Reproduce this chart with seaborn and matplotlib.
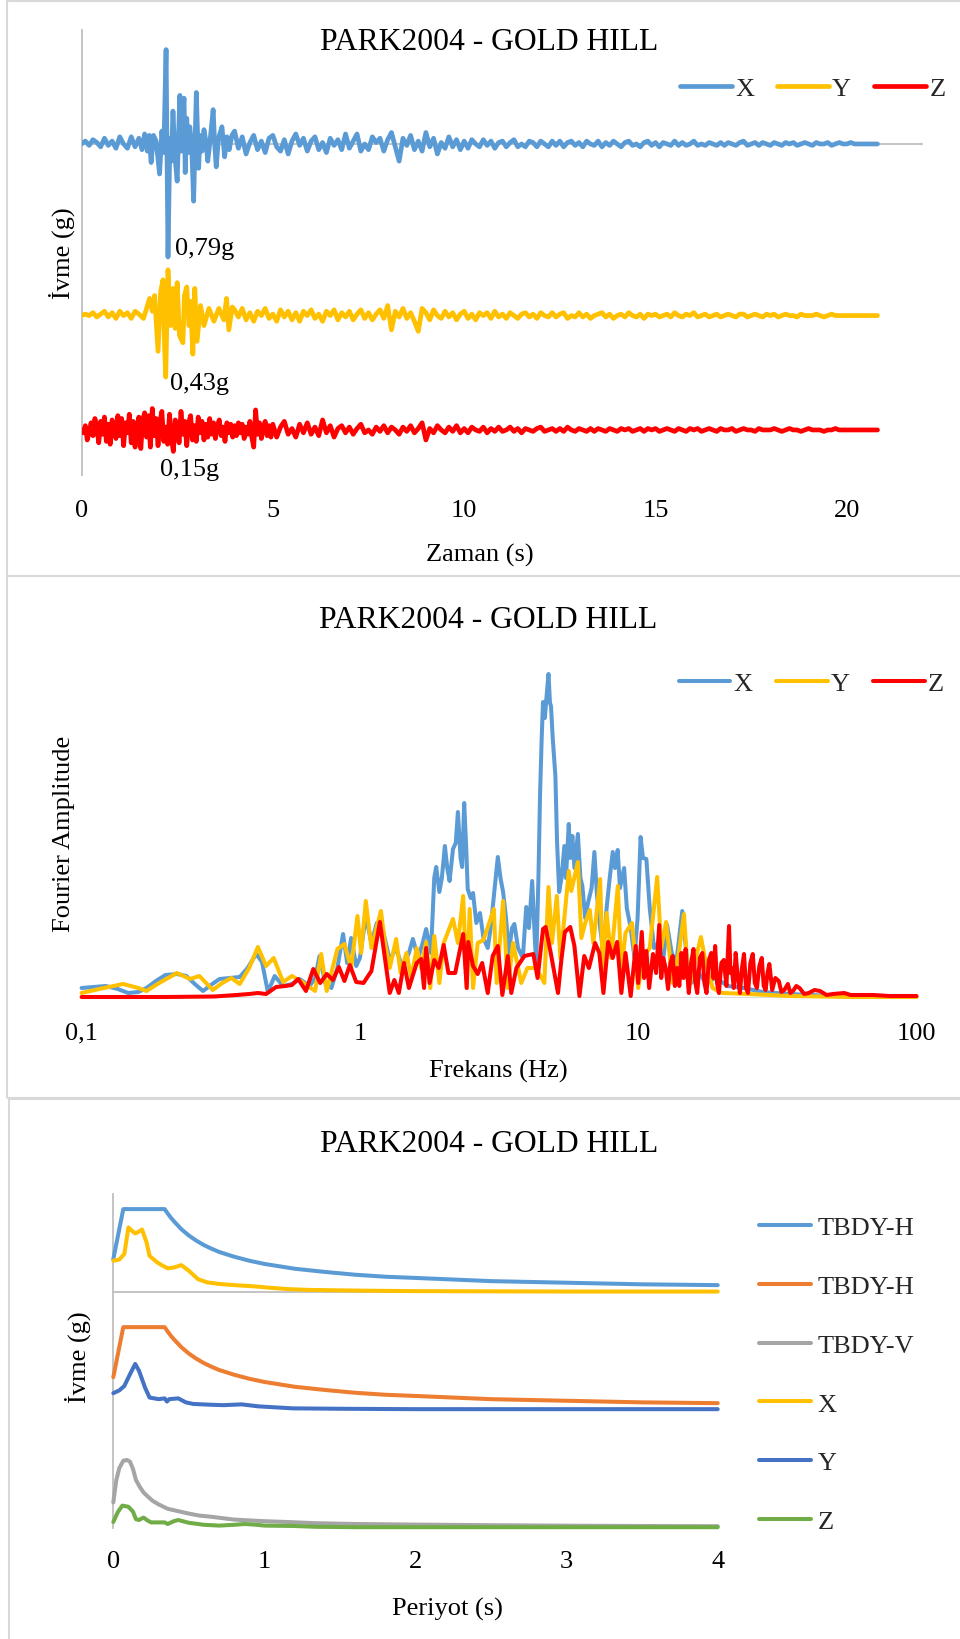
import numpy as np
import pandas as pd
import matplotlib
matplotlib.use("Agg")
import matplotlib.pyplot as plt
from matplotlib.patches import Rectangle
from matplotlib.ticker import NullLocator
import seaborn as sns

# ------------------------------------------------------------------ data
title = "PARK2004 - GOLD HILL"
components = ["X", "Y", "Z"]
comp_colors = ["#5B9BD5", "#FFC000", "#FF0000"]

# acceleration records (g)
# X and Y: 0.1 s samples before 1.6 s and from 4.0 s, irregular samples in between
dt = 0.1
x_pre = [0.00, 0.02, -0.01, 0.03, 0.01, -0.02, 0.04, -0.01, 0.02, -0.03,
         0.05, 0.00, -0.03, 0.05, -0.02, 0.04]
x_strong_t = [1.58, 1.65, 1.72, 1.77, 1.82, 1.88, 1.95, 2.04, 2.10, 2.15,
              2.21, 2.26, 2.31, 2.35, 2.39, 2.44, 2.50, 2.57, 2.61, 2.64,
              2.68, 2.71, 2.75, 2.79, 2.83, 2.88, 2.93, 2.97, 3.00, 3.06,
              3.10, 3.15, 3.20, 3.25, 3.30, 3.37, 3.44, 3.48, 3.52, 3.58,
              3.67, 3.74, 3.80, 3.86, 3.93]
x_strong_a = [-0.04, 0.07, -0.05, 0.06, -0.13, 0.06, 0.02, -0.21, 0.09, -0.06,
              0.66, -0.79, 0.04, -0.12, 0.23, -0.08, -0.26, 0.34, -0.05, 0.20,
              0.32, -0.20, 0.18, -0.06, 0.12, -0.02, -0.40, 0.05, 0.36, -0.17,
              0.06, -0.05, 0.10, 0.02, -0.12, 0.05, 0.24, 0.00, -0.16, 0.04,
              0.12, -0.09, 0.05, -0.04, 0.06]
x_post = [0.09, -0.03, 0.05, -0.07, 0.01, 0.06, -0.04, 0.02, -0.06, 0.04,
          0.06, -0.02, -0.05, 0.03, -0.07, 0.02, 0.07, -0.01, 0.04, -0.05,
          0.02, 0.05, -0.04, 0.01, -0.06, 0.04, -0.01, 0.03, -0.04, 0.07,
          -0.03, 0.02, 0.07, -0.05, 0.00, -0.04, 0.05, 0.01, 0.04, -0.05,
          0.03, 0.08, -0.02, -0.12, 0.04, -0.01, 0.06, -0.04, 0.02, -0.05,
          0.08, -0.02, 0.04, -0.07, 0.01, -0.03, 0.05, -0.02, 0.03, -0.04,
          0.02, -0.03, 0.03, 0.00, -0.02, 0.03, -0.01, 0.02, -0.03, 0.01,
          0.02, -0.02, 0.01, 0.03, -0.02, 0.00, -0.02, 0.02, 0.01, -0.02,
          0.02, 0.00, -0.02, 0.02, -0.01, 0.02, -0.02, 0.01, 0.02, -0.01,
          0.01, -0.02, 0.02, 0.00, -0.01, 0.02, -0.02, 0.01, -0.01, 0.02,
          0.00, -0.02, 0.01, 0.02, -0.01, 0.00, -0.02, 0.01, 0.02, -0.01,
          0.01, -0.02, 0.01, 0.00, -0.01, 0.02, -0.01, 0.01, -0.01, 0.00,
          0.02, -0.01, 0.00, -0.01, 0.01, 0.00, -0.01, 0.01, -0.01, 0.01,
          0.00, -0.01, 0.01, 0.02, -0.01, 0.00, 0.01, -0.01, 0.01, 0.00,
          -0.01, 0.01, 0.00, -0.01, 0.01, 0.00, 0.01, -0.01, 0.00, 0.01,
          0.00, -0.01, 0.01, 0.00, 0.00, 0.01, -0.01, 0.00, 0.01, 0.00,
          0.00, 0.01, 0.00, 0.00, 0.00, 0.00, 0.00, 0.00, 0.00]

y_pre = [0.00, 0.01, 0.00, 0.02, -0.01, 0.01, 0.03, -0.01, 0.02, -0.02,
         0.03, 0.00, 0.02, -0.02, 0.03, 0.01]
y_strong_t = [1.62, 1.70, 1.78, 1.85, 1.91, 2.00, 2.07, 2.13, 2.17, 2.20,
              2.26, 2.33, 2.39, 2.45, 2.50, 2.56, 2.65, 2.69, 2.75, 2.81,
              2.85, 2.91, 2.96, 3.02, 3.11, 3.20, 3.33, 3.46, 3.59, 3.72,
              3.79, 3.85, 3.94]
y_strong_a = [-0.02, 0.05, 0.12, 0.03, 0.14, -0.25, 0.17, 0.25, -0.20, -0.43,
              0.32, -0.07, 0.19, -0.09, 0.23, -0.14, -0.19, 0.14, 0.20, -0.07,
              0.10, -0.27, 0.19, -0.18, 0.07, -0.07, 0.05, -0.04, 0.05, -0.03,
              0.12, -0.10, 0.06]
y_post = [0.04, -0.01, 0.05, -0.03, 0.02, -0.04, 0.03, 0.00, 0.05, -0.02,
          0.01, -0.04, 0.04, -0.01, 0.03, -0.03, 0.02, -0.04, 0.03, 0.00,
          0.04, -0.02, 0.01, -0.04, 0.03, 0.00, 0.04, -0.03, 0.02, -0.01,
          0.03, -0.03, 0.01, 0.04, -0.02, 0.02, -0.03, 0.01, 0.04, -0.02,
          0.07, -0.10, 0.03, -0.01, 0.05, -0.02, 0.02, -0.04, -0.11, 0.05,
          0.02, -0.03, 0.04, 0.00, -0.02, 0.03, -0.01, 0.02, -0.03, 0.01,
          0.03, -0.02, 0.01, -0.03, 0.02, 0.00, 0.02, -0.02, 0.03, -0.01,
          0.01, -0.02, 0.02, 0.00, -0.02, 0.01, 0.02, -0.01, 0.01, -0.02,
          0.02, 0.00, -0.01, 0.02, -0.01, 0.01, 0.02, -0.02, 0.00, -0.01,
          0.02, -0.01, 0.01, -0.02, 0.00, 0.01, 0.02, -0.01, 0.01, -0.02,
          0.00, 0.01, -0.01, 0.02, 0.00, -0.01, 0.01, -0.02, 0.01, 0.00,
          0.01, -0.01, 0.00, 0.01, -0.01, 0.02, 0.00, -0.01, 0.01, 0.00,
          0.02, -0.01, 0.00, 0.01, -0.01, 0.00, 0.01, -0.01, 0.00, 0.01,
          0.00, -0.01, 0.01, 0.01, -0.01, 0.00, 0.01, 0.00, -0.01, 0.01,
          0.00, 0.01, -0.01, 0.00, 0.01, 0.00, 0.00, -0.01, 0.01, 0.00,
          0.00, 0.00, 0.01, 0.00, -0.01, 0.00, 0.01, 0.00, 0.00, 0.00,
          0.00, 0.00, 0.00, 0.00, 0.00, 0.00, 0.00, 0.00, 0.00]

# Z: 0.05 s samples up to 5 s, 0.1 s samples afterwards
z_early = [0.00, -0.02, 0.03, -0.07, -0.02, 0.05, -0.04, 0.08, 0.02, -0.09,
           0.06, -0.03, 0.09, -0.08, 0.04, -0.10, 0.07, 0.01, -0.06, 0.10,
           -0.04, 0.08, -0.11, 0.05, -0.02, 0.11, -0.09, 0.06, -0.12, 0.03,
           0.09, -0.13, 0.07, 0.12, -0.05, 0.10, -0.12, 0.15, -0.04, 0.08,
           -0.11, 0.06, 0.13, -0.08, 0.02, -0.10, 0.11, -0.06, -0.15, 0.07,
           0.04, -0.09, 0.13, -0.03, 0.06, -0.11, 0.05, 0.10, -0.07, 0.03,
           -0.08, 0.09, -0.02, 0.06, -0.07, 0.04, -0.05, 0.08, -0.03, 0.05,
           -0.06, 0.03, 0.07, -0.04, 0.02, -0.08, 0.05, -0.02, 0.04, -0.05,
           0.03, -0.04, 0.05, -0.02, 0.04, -0.06, 0.02, -0.03, 0.06, -0.05,
           -0.12, 0.14, -0.03, 0.05, -0.06, 0.02, 0.06, -0.04, 0.03, -0.05]
z_late = [0.04, -0.05, 0.02, 0.06, -0.03, 0.01, -0.05, 0.04, -0.02, 0.05,
          -0.03, 0.02, -0.04, 0.07, -0.02, 0.03, -0.05, 0.01, 0.03, -0.02,
          0.02, -0.03, 0.01, 0.04, -0.02, 0.00, -0.03, 0.02, -0.01, 0.03,
          -0.02, 0.02, 0.00, -0.03, 0.02, -0.01, 0.03, -0.02, 0.01, 0.05,
          -0.07, 0.01, -0.02, 0.03, 0.00, -0.02, 0.02, -0.01, 0.03, -0.02,
          0.01, -0.02, 0.02, 0.00, -0.01, 0.02, -0.02, 0.01, -0.01, 0.02,
          -0.01, 0.00, 0.02, -0.01, 0.01, -0.02, 0.01, 0.00, -0.01, 0.01,
          0.02, -0.01, 0.00, 0.01, -0.01, 0.01, -0.01, 0.02, 0.00, -0.01,
          0.01, 0.00, -0.01, 0.01, -0.01, 0.01, 0.00, -0.01, 0.01, 0.00,
          -0.01, 0.01, 0.00, 0.01, -0.01, 0.00, 0.01, -0.01, 0.01, 0.00,
          0.01, -0.01, 0.00, 0.01, 0.00, -0.01, 0.01, 0.00, -0.01, 0.01,
          0.00, 0.01, -0.01, 0.00, 0.01, 0.00, -0.01, 0.01, 0.00, 0.00,
          0.01, -0.01, 0.00, 0.01, 0.00, 0.00, -0.01, 0.01, 0.00, 0.00,
          0.00, 0.01, 0.00, -0.01, 0.00, 0.01, 0.00, 0.00, -0.01, 0.00,
          0.01, 0.00, 0.00, 0.00, -0.01, 0.00, 0.00, 0.01, 0.00, 0.00,
          0.00, 0.00, 0.00, 0.00, 0.00, 0.00, 0.00, 0.00, 0.00]

trace_offsets = [0.0, -1.2, -2.0]   # vertical stacking of the three traces (g)
time_ticks = [0, 5, 10, 15, 20]

# Fourier amplitude spectra
fx_freq = [0.100, 0.122, 0.135, 0.147, 0.160, 0.171, 0.185, 0.200, 0.220, 0.238,
           0.255, 0.273, 0.295, 0.313, 0.340, 0.370, 0.395, 0.424, 0.445, 0.467,
           0.494, 0.530, 0.570, 0.607, 0.660, 0.690, 0.716, 0.750, 0.790, 0.830,
           0.870, 0.900, 0.930, 0.970, 1.000, 1.050, 1.100, 1.150, 1.200, 1.280,
           1.350, 1.420, 1.500, 1.550, 1.620, 1.680, 1.730, 1.800, 1.850, 1.880,
           1.930, 1.970, 2.020, 2.060, 2.100, 2.160, 2.210, 2.250, 2.300, 2.330,
           2.370, 2.410, 2.440, 2.500, 2.550, 2.620, 2.700, 2.780, 2.880, 2.950,
           3.050, 3.130, 3.200, 3.270, 3.350, 3.430, 3.520, 3.590, 3.700, 3.850,
           3.960, 4.050, 4.160, 4.250, 4.300, 4.380, 4.440, 4.500, 4.550, 4.620,
           4.680, 4.760, 4.820, 4.860, 4.930, 5.040, 5.110, 5.200, 5.300, 5.430,
           5.500, 5.630, 5.700, 5.800, 5.900, 6.070, 6.200, 6.300, 6.450, 6.600,
           6.800, 6.960, 7.100, 7.300, 7.500, 7.700, 7.900, 8.100, 8.250, 8.440,
           8.600, 8.900, 9.100, 9.400, 9.700, 9.950, 10.20, 10.40, 10.70, 11.00,
           11.40, 11.80, 12.20, 12.70, 13.20, 13.70, 14.40, 14.90, 15.50, 16.50,
           17.50, 19.00, 21.00, 24.00, 28.00, 35.00, 50.00, 70.00, 100.0]
fx_amp = [0.10, 0.12, 0.09, 0.05, 0.06, 0.10, 0.17, 0.23, 0.24, 0.22,
          0.14, 0.07, 0.14, 0.19, 0.20, 0.21, 0.30, 0.44, 0.36, 0.06,
          0.22, 0.12, 0.14, 0.19, 0.12, 0.20, 0.42, 0.15, 0.10, 0.30,
          0.64, 0.35, 0.60, 0.32, 0.40, 0.82, 0.55, 0.75, 0.72, 0.38,
          0.50, 0.30, 0.45, 0.59, 0.40, 0.55, 0.69, 0.45, 1.20, 1.31,
          1.06, 1.20, 1.52, 1.30, 1.17, 1.49, 1.55, 1.86, 1.40, 1.31,
          1.95, 1.50, 1.09, 1.00, 1.05, 0.75, 0.85, 0.60, 0.50, 0.70,
          1.10, 1.41, 1.20, 1.06, 0.80, 0.45, 0.70, 0.74, 0.50, 0.40,
          0.91, 0.70, 1.17, 0.60, 0.35, 1.20, 2.04, 2.60, 2.96, 2.80,
          3.00, 3.24, 2.95, 2.92, 2.60, 2.22, 1.56, 1.06, 1.20, 1.52,
          1.20, 1.74, 1.40, 1.62, 1.30, 1.64, 1.20, 1.12, 0.80, 0.95,
          1.10, 1.46, 1.05, 0.70, 0.45, 0.90, 1.20, 1.46, 1.30, 1.48,
          1.10, 1.30, 0.90, 0.70, 0.40, 0.80, 1.61, 1.40, 1.39, 0.90,
          0.50, 0.55, 0.30, 0.73, 0.45, 0.35, 0.87, 0.45, 0.15, 0.25,
          0.15, 0.20, 0.12, 0.10, 0.06, 0.04, 0.02, 0.01, 0.01]

fy_freq = [0.100, 0.120, 0.141, 0.160, 0.171, 0.190, 0.220, 0.245, 0.265, 0.296,
           0.320, 0.345, 0.370, 0.400, 0.430, 0.460, 0.490, 0.530, 0.570, 0.620,
           0.690, 0.726, 0.760, 0.830, 0.880, 0.930, 0.980, 1.010, 1.050, 1.100,
           1.190, 1.230, 1.280, 1.350, 1.400, 1.470, 1.530, 1.600, 1.660, 1.730,
           1.790, 1.850, 1.930, 2.000, 2.160, 2.250, 2.350, 2.420, 2.480, 2.550,
           2.650, 2.780, 3.030, 3.100, 3.270, 3.400, 3.550, 3.800, 4.000, 4.300,
           4.600, 4.760, 4.900, 5.100, 5.250, 5.450, 5.630, 5.750, 6.070, 6.250,
           6.450, 6.700, 6.900, 7.300, 7.450, 7.700, 8.000, 8.450, 8.700, 9.000,
           9.500, 10.00, 10.40, 11.00, 11.70, 12.10, 12.60, 13.30, 14.00, 14.60,
           15.20, 16.80, 17.50, 18.50, 20.00, 25.00, 35.00, 60.00, 100.0]
fy_amp = [0.05, 0.10, 0.14, 0.10, 0.07, 0.15, 0.25, 0.19, 0.22, 0.08,
          0.15, 0.20, 0.14, 0.30, 0.51, 0.32, 0.40, 0.16, 0.22, 0.16,
          0.07, 0.44, 0.07, 0.49, 0.54, 0.30, 0.82, 0.45, 0.97, 0.50,
          0.87, 0.55, 0.30, 0.59, 0.25, 0.45, 0.20, 0.50, 0.30, 0.56,
          0.10, 0.62, 0.15, 0.55, 0.79, 0.55, 1.02, 0.10, 0.89, 0.10,
          0.55, 0.58, 0.89, 0.15, 0.97, 0.10, 0.55, 0.15, 0.30, 0.30,
          0.15, 1.11, 0.55, 1.02, 0.40, 0.85, 1.27, 1.07, 1.36, 0.60,
          0.75, 0.88, 0.55, 1.19, 0.30, 0.85, 0.40, 1.12, 0.25, 0.65,
          0.75, 0.10, 0.40, 0.50, 1.21, 0.50, 0.76, 0.15, 0.45, 0.84,
          0.10, 0.61, 0.35, 0.10, 0.05, 0.04, 0.02, 0.01, 0.01]

fz_freq = [0.100, 0.200, 0.300, 0.360, 0.400, 0.430, 0.460, 0.500, 0.540, 0.570,
           0.600, 0.640, 0.680, 0.720, 0.760, 0.800, 0.840, 0.880, 0.920, 0.970,
           1.030, 1.100, 1.180, 1.230, 1.280, 1.330, 1.380, 1.440, 1.500, 1.600,
           1.660, 1.700, 1.730, 1.780, 1.850, 1.920, 2.000, 2.080, 2.200, 2.350,
           2.420, 2.450, 2.550, 2.650, 2.750, 2.880, 3.000, 3.130, 3.250, 3.400,
           3.500, 3.650, 3.900, 4.200, 4.350, 4.550, 4.650, 4.850, 5.150, 5.300,
           5.450, 5.700, 5.900, 6.150, 6.400, 6.650, 7.000, 7.250, 7.500, 7.800,
           8.100, 8.400, 8.700, 9.000, 9.400, 9.800, 10.00, 10.30, 10.50, 10.70,
           10.95, 11.30, 11.60, 11.90, 12.10, 12.30, 12.55, 12.80, 13.05, 13.30,
           13.55, 13.80, 14.05, 14.30, 14.55, 14.80, 15.00, 15.20, 15.50, 15.80,
           16.05, 16.30, 16.65, 17.00, 17.30, 17.60, 17.95, 18.30, 18.60, 18.90,
           19.20, 19.50, 19.90, 20.30, 20.75, 21.20, 21.45, 21.70, 22.05, 22.40,
           22.80, 23.20, 23.60, 24.00, 24.40, 24.80, 25.30, 25.80, 26.25, 26.70,
           27.25, 27.80, 28.25, 28.70, 29.15, 29.60, 30.30, 31.10, 32.00, 32.70,
           33.50, 34.50, 35.20, 36.00, 37.00, 38.00, 39.50, 41.00, 43.00, 45.00,
           47.50, 50.00, 55.00, 58.00, 62.00, 70.00, 80.00, 100.0]
fz_amp = [0.01, 0.01, 0.015, 0.03, 0.04, 0.05, 0.04, 0.11, 0.12, 0.13,
          0.19, 0.07, 0.29, 0.15, 0.24, 0.18, 0.31, 0.17, 0.33, 0.16,
          0.15, 0.27, 0.76, 0.40, 0.05, 0.18, 0.05, 0.35, 0.10, 0.35,
          0.39, 0.10, 0.50, 0.15, 0.38, 0.30, 0.53, 0.25, 0.25, 0.64,
          0.10, 0.56, 0.32, 0.24, 0.35, 0.05, 0.42, 0.52, 0.03, 0.42,
          0.05, 0.30, 0.42, 0.44, 0.20, 0.69, 0.71, 0.45, 0.05, 0.39,
          0.66, 0.71, 0.52, 0.02, 0.42, 0.30, 0.55, 0.45, 0.05, 0.56,
          0.40, 0.56, 0.05, 0.45, 0.02, 0.52, 0.15, 0.66, 0.20, 0.47,
          0.10, 0.44, 0.25, 0.73, 0.20, 0.40, 0.30, 0.09, 0.35, 0.42,
          0.12, 0.30, 0.12, 0.45, 0.20, 0.49, 0.25, 0.05, 0.35, 0.49,
          0.15, 0.05, 0.40, 0.45, 0.15, 0.05, 0.38, 0.45, 0.20, 0.52,
          0.15, 0.05, 0.35, 0.38, 0.12, 0.72, 0.25, 0.30, 0.10, 0.45,
          0.20, 0.05, 0.30, 0.44, 0.10, 0.05, 0.35, 0.44, 0.15, 0.10,
          0.32, 0.40, 0.12, 0.08, 0.25, 0.34, 0.08, 0.20, 0.17, 0.06,
          0.08, 0.14, 0.05, 0.07, 0.12, 0.10, 0.04, 0.05, 0.08, 0.07,
          0.03, 0.04, 0.05, 0.03, 0.03, 0.03, 0.02, 0.02]
freq_ticks = [0.1, 1, 10, 100]
freq_labels = ["0,1", "1", "10", "100"]

# response spectra (g)
spec_names = ["TBDY-H", "TBDY-H", "TBDY-V", "X", "Y", "Z"]
spec_colors = ["#5B9BD5", "#ED7D31", "#A5A5A5", "#FFC000", "#4472C4", "#70AD47"]
spec_offsets = [0.0, -2.95, -5.89, 0.0, -2.95, -5.89]

tbdy_h_T = [0.0, 0.066, 0.1, 0.2, 0.34, 0.36, 0.38, 0.4, 0.45, 0.5, 0.55, 0.6,
            0.65, 0.7, 0.75, 0.8, 0.9, 1.0, 1.1, 1.2, 1.3, 1.4, 1.6, 1.8, 2.0,
            2.25, 2.5, 2.75, 3.0, 3.5, 4.0]
tbdy_h_Sa = [0.83, 2.08, 2.08, 2.08, 2.08, 1.97, 1.87, 1.78, 1.58, 1.42, 1.29, 1.18,
             1.09, 1.01, 0.95, 0.89, 0.79, 0.71, 0.65, 0.59, 0.55, 0.51, 0.44, 0.39, 0.36,
             0.32, 0.28, 0.26, 0.24, 0.20, 0.18]
tbdy_v_T = [0.0, 0.02, 0.04, 0.066, 0.09, 0.11, 0.13, 0.15, 0.175, 0.2, 0.23, 0.26,
            0.3, 0.36, 0.43, 0.5, 0.57, 0.65, 0.8, 1.0, 1.15, 1.34, 1.6, 2.0, 2.5,
            3.0, 3.5, 4.0]
tbdy_v_Sa = [0.64, 1.20, 1.50, 1.68, 1.70, 1.66, 1.48, 1.20, 1.03, 0.89, 0.78, 0.68,
             0.59, 0.48, 0.42, 0.36, 0.31, 0.28, 0.21, 0.17, 0.15, 0.12, 0.10, 0.085, 0.07,
             0.058, 0.05, 0.045]
sx_T = [0.0, 0.04, 0.073, 0.10, 0.12, 0.145, 0.17, 0.19, 0.22, 0.24, 0.29, 0.32,
        0.36, 0.40, 0.45, 0.50, 0.56, 0.62, 0.70, 0.80, 0.93, 1.05, 1.16, 1.3,
        1.49, 1.7, 2.0, 2.5, 3.0, 3.5, 4.0]
sx_Sa = [0.79, 0.82, 0.96, 1.62, 1.55, 1.47, 1.52, 1.57, 1.25, 0.91, 0.75, 0.68,
         0.60, 0.62, 0.68, 0.54, 0.33, 0.25, 0.21, 0.18, 0.15, 0.11, 0.08, 0.06,
         0.05, 0.04, 0.03, 0.025, 0.02, 0.02, 0.02]
sy_T = [0.0, 0.04, 0.073, 0.11, 0.145, 0.17, 0.21, 0.24, 0.30, 0.34, 0.355, 0.37,
        0.43, 0.48, 0.53, 0.65, 0.73, 0.85, 0.96, 1.19, 1.5, 2.0, 3.0, 4.0]
sy_Sa = [0.43, 0.50, 0.61, 0.90, 1.16, 0.99, 0.57, 0.32, 0.28, 0.30, 0.22, 0.28,
         0.30, 0.20, 0.16, 0.14, 0.13, 0.15, 0.10, 0.05, 0.04, 0.03, 0.03, 0.03]
sz_T = [0.0, 0.03, 0.06, 0.10, 0.13, 0.15, 0.17, 0.20, 0.23, 0.25, 0.30, 0.34,
        0.36, 0.40, 0.43, 0.47, 0.50, 0.60, 0.70, 0.80, 0.87, 0.95, 1.0, 1.2,
        1.34, 1.6, 2.0, 3.0, 4.0]
sz_Sa = [0.15, 0.40, 0.56, 0.53, 0.41, 0.22, 0.20, 0.26, 0.18, 0.14, 0.14, 0.14,
         0.10, 0.17, 0.20, 0.16, 0.13, 0.08, 0.06, 0.08, 0.10, 0.08, 0.06, 0.05,
         0.03, 0.02, 0.02, 0.02, 0.02]
period_ticks = [0, 1, 2, 3, 4]

# ------------------------------------------------------------------ style
sns.set_theme(style="white")
plt.rcParams["font.family"] = ["Liberation Serif", "DejaVu Serif"]
plt.rcParams["axes.facecolor"] = "none"

W, H = 960, 1640
FS = 19
TITLE_FS = 22.8
AXIS_GREY = "#BFBFBF"
BORDER_GREY = "#D9D9D9"

fig = plt.figure(figsize=(W / 100, H / 100), dpi=100)


def fxy(x, y):
    return x / W, 1 - y / H


def axes_px(rect):
    l, t, r, b = rect
    return fig.add_axes([l / W, 1 - b / H, (r - l) / W, (b - t) / H])


def place(rect, x, y):
    l, t, r, b = rect
    return (x - l) / (r - l), (b - y) / (b - t)


def decorate(ax, rect, xlabel, xl_pos, ylabel, yl_pos, title_pos):
    ax.set_xlabel(xlabel, fontsize=FS, color="black")
    ax.xaxis.label.set_va("center")
    ax.xaxis.set_label_coords(*place(rect, *xl_pos))
    ax.set_ylabel(ylabel, fontsize=FS, color="black")
    ax.yaxis.label.set_va("center")
    ax.yaxis.set_label_coords(*place(rect, *yl_pos))
    tx, ty = place(rect, *title_pos)
    ax.text(tx, ty, title, transform=ax.transAxes, ha="center", va="center",
            fontsize=TITLE_FS, color="black")
    ax.set_yticks([])
    ax.tick_params(axis="x", length=0, labelsize=FS, colors="black")
    for side in ["top", "right", "bottom", "left"]:
        ax.spines[side].set_visible(False)


# panel frames
for l, t, r, b in [(7, 2, 1000, 577), (7, 577, 1000, 1099), (8.5, 1100, 1000, 1660)]:
    fig.patches.append(Rectangle(fxy(l, b), (r - l) / W, (b - t) / H,
                                 transform=fig.transFigure, fill=False,
                                 ec=BORDER_GREY, lw=1.5, zorder=0))

# ------------------------------------------------------------------ panel 1: time histories
rect1 = (81.5, 31, 923.4, 476)
ax1 = axes_px(rect1)
t_pre = np.round(np.arange(len(x_pre)) * dt, 2)
t_post = np.round(4.0 + np.arange(len(x_post)) * dt, 2)
t_z = np.concatenate([np.round(np.arange(len(z_early)) * 0.05, 2),
                      np.round(5.0 + np.arange(len(z_late)) * dt, 2)])
records = {
    "X": (np.concatenate([t_pre, x_strong_t, t_post]),
          np.concatenate([x_pre, x_strong_a, x_post])),
    "Y": (np.concatenate([t_pre, y_strong_t, t_post]),
          np.concatenate([y_pre, y_strong_a, y_post])),
    "Z": (t_z, np.concatenate([z_early, z_late])),
}
ax1.axhline(0, color=AXIS_GREY, lw=1.3, zorder=1)
handles1 = []
for comp, color, off in zip(components, comp_colors, trace_offsets):
    t, a = records[comp]
    df = pd.DataFrame({"t": t, "acc": a + off})
    sns.lineplot(data=df, x="t", y="acc", ax=ax1, color=color, lw=3.4,
                 estimator=None, sort=False, legend=False, zorder=3)
    handles1.append(ax1.lines[-1])
ax1.set_xlim(0, 22)
ax1.set_ylim(-2.315, 0.797)
decorate(ax1, rect1, "Zaman (s)", (480, 555), "İvme (g)", (62, 253), (489, 43))
ax1.spines["left"].set_visible(True)
ax1.spines["left"].set_color(AXIS_GREY)
ax1.spines["left"].set_linewidth(1.3)
ax1.set_xticks(time_ticks)
ax1.set_xticklabels([str(v) for v in time_ticks])
ax1.tick_params(axis="x", pad=17)

# peak labels under each trace
label_pos = {"X": (2.435, -0.73), "Y": (2.30, -1.67), "Z": (2.05, -2.275)}
for comp in components:
    t, a = records[comp]
    peak = np.min(a)
    txt = f"{abs(peak):.2f}".replace(".", ",") + "g"
    ax1.text(*label_pos[comp], txt, ha="left", va="center", fontsize=FS, color="black")

ax1.legend(handles1, components, loc="center left",
           bbox_to_anchor=fxy(680, 89), bbox_transform=fig.transFigure,
           ncol=3, frameon=False, fontsize=FS, handlelength=1.97,
           handletextpad=0.12, columnspacing=0.87, borderpad=0, borderaxespad=0)

# ------------------------------------------------------------------ panel 2: Fourier spectra
rect2 = (81.6, 660, 916.5, 999)
ax2 = axes_px(rect2)
ax2.set_xscale("log")
ax2.axhline(0, color=BORDER_GREY, lw=1.6, zorder=1)
fourier = {"X": (fx_freq, fx_amp), "Y": (fy_freq, fy_amp), "Z": (fz_freq, fz_amp)}
handles2 = []
for comp, color in zip(components, comp_colors):
    f, amp = fourier[comp]
    df = pd.DataFrame({"f": f, "amp": amp})
    sns.lineplot(data=df, x="f", y="amp", ax=ax2, color=color, lw=2.9,
                 estimator=None, sort=False, legend=False, zorder=3, clip_on=False)
    handles2.append(ax2.lines[-1])
ax2.set_xlim(0.1, 100)
ax2.set_ylim(0, 3.39)
decorate(ax2, rect2, "Frekans (Hz)", (498, 1071), "Fourier Amplitude", (64, 834), (488, 620))
ax2.set_xticks(freq_ticks)
ax2.set_xticklabels(freq_labels)
ax2.xaxis.set_minor_locator(NullLocator())
ax2.tick_params(axis="x", pad=17)
ax2.legend(handles2, components, loc="center left",
           bbox_to_anchor=fxy(678.5, 684), bbox_transform=fig.transFigure,
           ncol=3, frameon=False, fontsize=FS, handlelength=1.97,
           handletextpad=0.12, columnspacing=0.87, borderpad=0, borderaxespad=0)

# ------------------------------------------------------------------ panel 3: response spectra
rect3 = (113.3, 1195, 717.7, 1529)
ax3 = axes_px(rect3)
ax3.axhline(0, color=AXIS_GREY, lw=1.3, zorder=1)
spectra = [(tbdy_h_T, tbdy_h_Sa), (tbdy_h_T, tbdy_h_Sa), (tbdy_v_T, tbdy_v_Sa),
           (sx_T, sx_Sa), (sy_T, sy_Sa), (sz_T, sz_Sa)]
handles3 = []
for (T, sa), color, off in zip(spectra, spec_colors, spec_offsets):
    df = pd.DataFrame({"T": T, "Sa": np.asarray(sa) + off})
    sns.lineplot(data=df, x="T", y="Sa", ax=ax3, color=color, lw=2.9,
                 estimator=None, sort=False, legend=False, zorder=3, clip_on=False)
    handles3.append(ax3.lines[-1])
ax3.set_xlim(0, 4)
ax3.set_ylim(-5.89, 2.4575)
decorate(ax3, rect3, "Periyot (s)", (447.6, 1609), "İvme (g)", (78, 1357.5), (489, 1144))
ax3.spines["left"].set_visible(True)
ax3.spines["left"].set_color(AXIS_GREY)
ax3.spines["left"].set_linewidth(1.3)
ax3.set_xticks(period_ticks)
ax3.set_xticklabels([str(v) for v in period_ticks])
ax3.tick_params(axis="x", pad=16)
ax3.legend(handles3, spec_names, loc="center left",
           bbox_to_anchor=fxy(759, 1375.5), bbox_transform=fig.transFigure,
           ncol=1, frameon=False, fontsize=FS, handlelength=1.97,
           handletextpad=0.25, labelspacing=1.34, borderpad=0, borderaxespad=0)

fig.savefig("out.png", dpi=100)
